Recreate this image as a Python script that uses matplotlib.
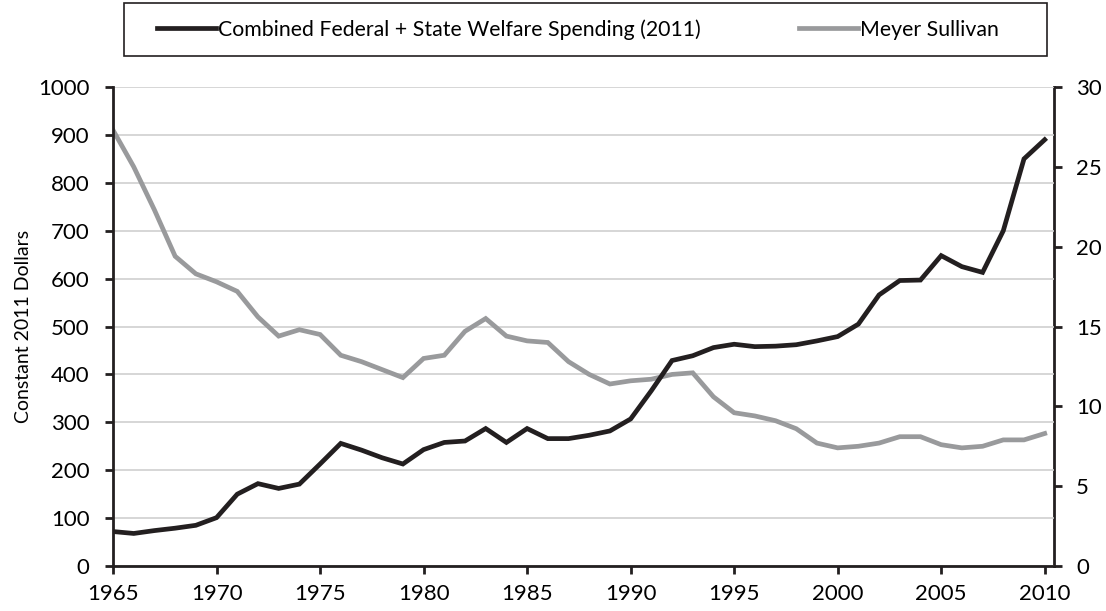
import matplotlib.pyplot as plt
import matplotlib.patheffects as pe
from matplotlib.patches import Rectangle

plt.rcParams['font.family'] = ['Lato', 'DejaVu Sans']

years = list(range(1965, 2011))

# Combined federal + state welfare spending, constant 2011 dollars (left axis)
welfare = [72, 68, 74, 79, 85, 101, 150, 172, 162, 171,
           213, 256, 242, 226, 213, 243, 258, 261, 287, 258,
           287, 266, 266, 273, 282, 307, 366, 429, 439, 456,
           463, 458, 459, 462, 470, 479, 505, 566, 596, 597,
           648, 625, 613, 700, 850, 890]

# Meyer Sullivan (right axis)
meyer = [27.3, 25.0, 22.3, 19.4, 18.3, 17.8, 17.2, 15.6, 14.4, 14.8,
         14.5, 13.2, 12.8, 12.3, 11.8, 13.0, 13.2, 14.7, 15.5, 14.4,
         14.1, 14.0, 12.8, 12.0, 11.4, 11.6, 11.7, 12.0, 12.1, 10.6,
         9.6, 9.4, 9.1, 8.6, 7.7, 7.4, 7.5, 7.7, 8.1, 8.1,
         7.6, 7.4, 7.5, 7.9, 7.9, 8.3]

fig = plt.figure(figsize=(11.06, 6.11), dpi=100)
ax = fig.add_axes([0.1022, 0.0736, 0.8508, 0.784])
ax2 = ax.twinx()

ax.set_zorder(ax2.get_zorder() + 1)
ax.patch.set_visible(False)

l1, = ax.plot(years, welfare, color='#231f20', lw=3.4, solid_joinstyle='miter',
              label='Combined Federal + State Welfare Spending (2011)')
l2, = ax.plot(years, [v / 0.03 for v in meyer], color='#999a9c', lw=3.4,
              solid_joinstyle='miter', label='Meyer Sullivan', zorder=1)

ax.set_xlim(1965, 2010.45)
ax.set_ylim(0, 1000)
ax2.set_ylim(0, 30)
ax.set_xticks(range(1965, 2011, 5))
ax.set_yticks(range(0, 1001, 100))
ax2.set_yticks(range(0, 31, 5))

ax.grid(axis='y', color='#d0d0d0', lw=1.2)
ax.set_axisbelow(True)

shadow = [pe.SimplePatchShadow(offset=(2.5, -2.5), shadow_rgbFace='#888888', alpha=0.35),
          pe.Normal()]
for a in (ax, ax2):
    for s in a.spines.values():
        s.set_color('#231f20')
        s.set_linewidth(2)
        s.set_path_effects(shadow)
    a.spines['top'].set_visible(False)
    a.tick_params(labelsize=16, width=2, length=6, color='#231f20')
ax.spines['right'].set_visible(False)
ax2.spines['left'].set_visible(False)
ax2.spines['bottom'].set_visible(False)
ax.tick_params(axis='y', pad=11)
ax.tick_params(axis='x', pad=7)
ax2.tick_params(axis='y', pad=10)

ax.set_ylabel('Constant 2011 Dollars', fontsize=14, labelpad=4)

# legend frame drawn separately so its size matches the original
fig.patches.append(Rectangle((124 / 1106, 1 - 56 / 611), 923 / 1106, 53 / 611,
                             transform=fig.transFigure, fill=False,
                             ec='#231f20', lw=1.2))
fig.legend(handles=[l1, l2], loc='center',
           bbox_to_anchor=(578 / 1106, 1 - 29.5 / 611),
           ncol=2, fontsize=15.3, frameon=False,
           handlelength=2.8, handletextpad=0.1, columnspacing=4.6)

fig.savefig('out.png', dpi=100)
